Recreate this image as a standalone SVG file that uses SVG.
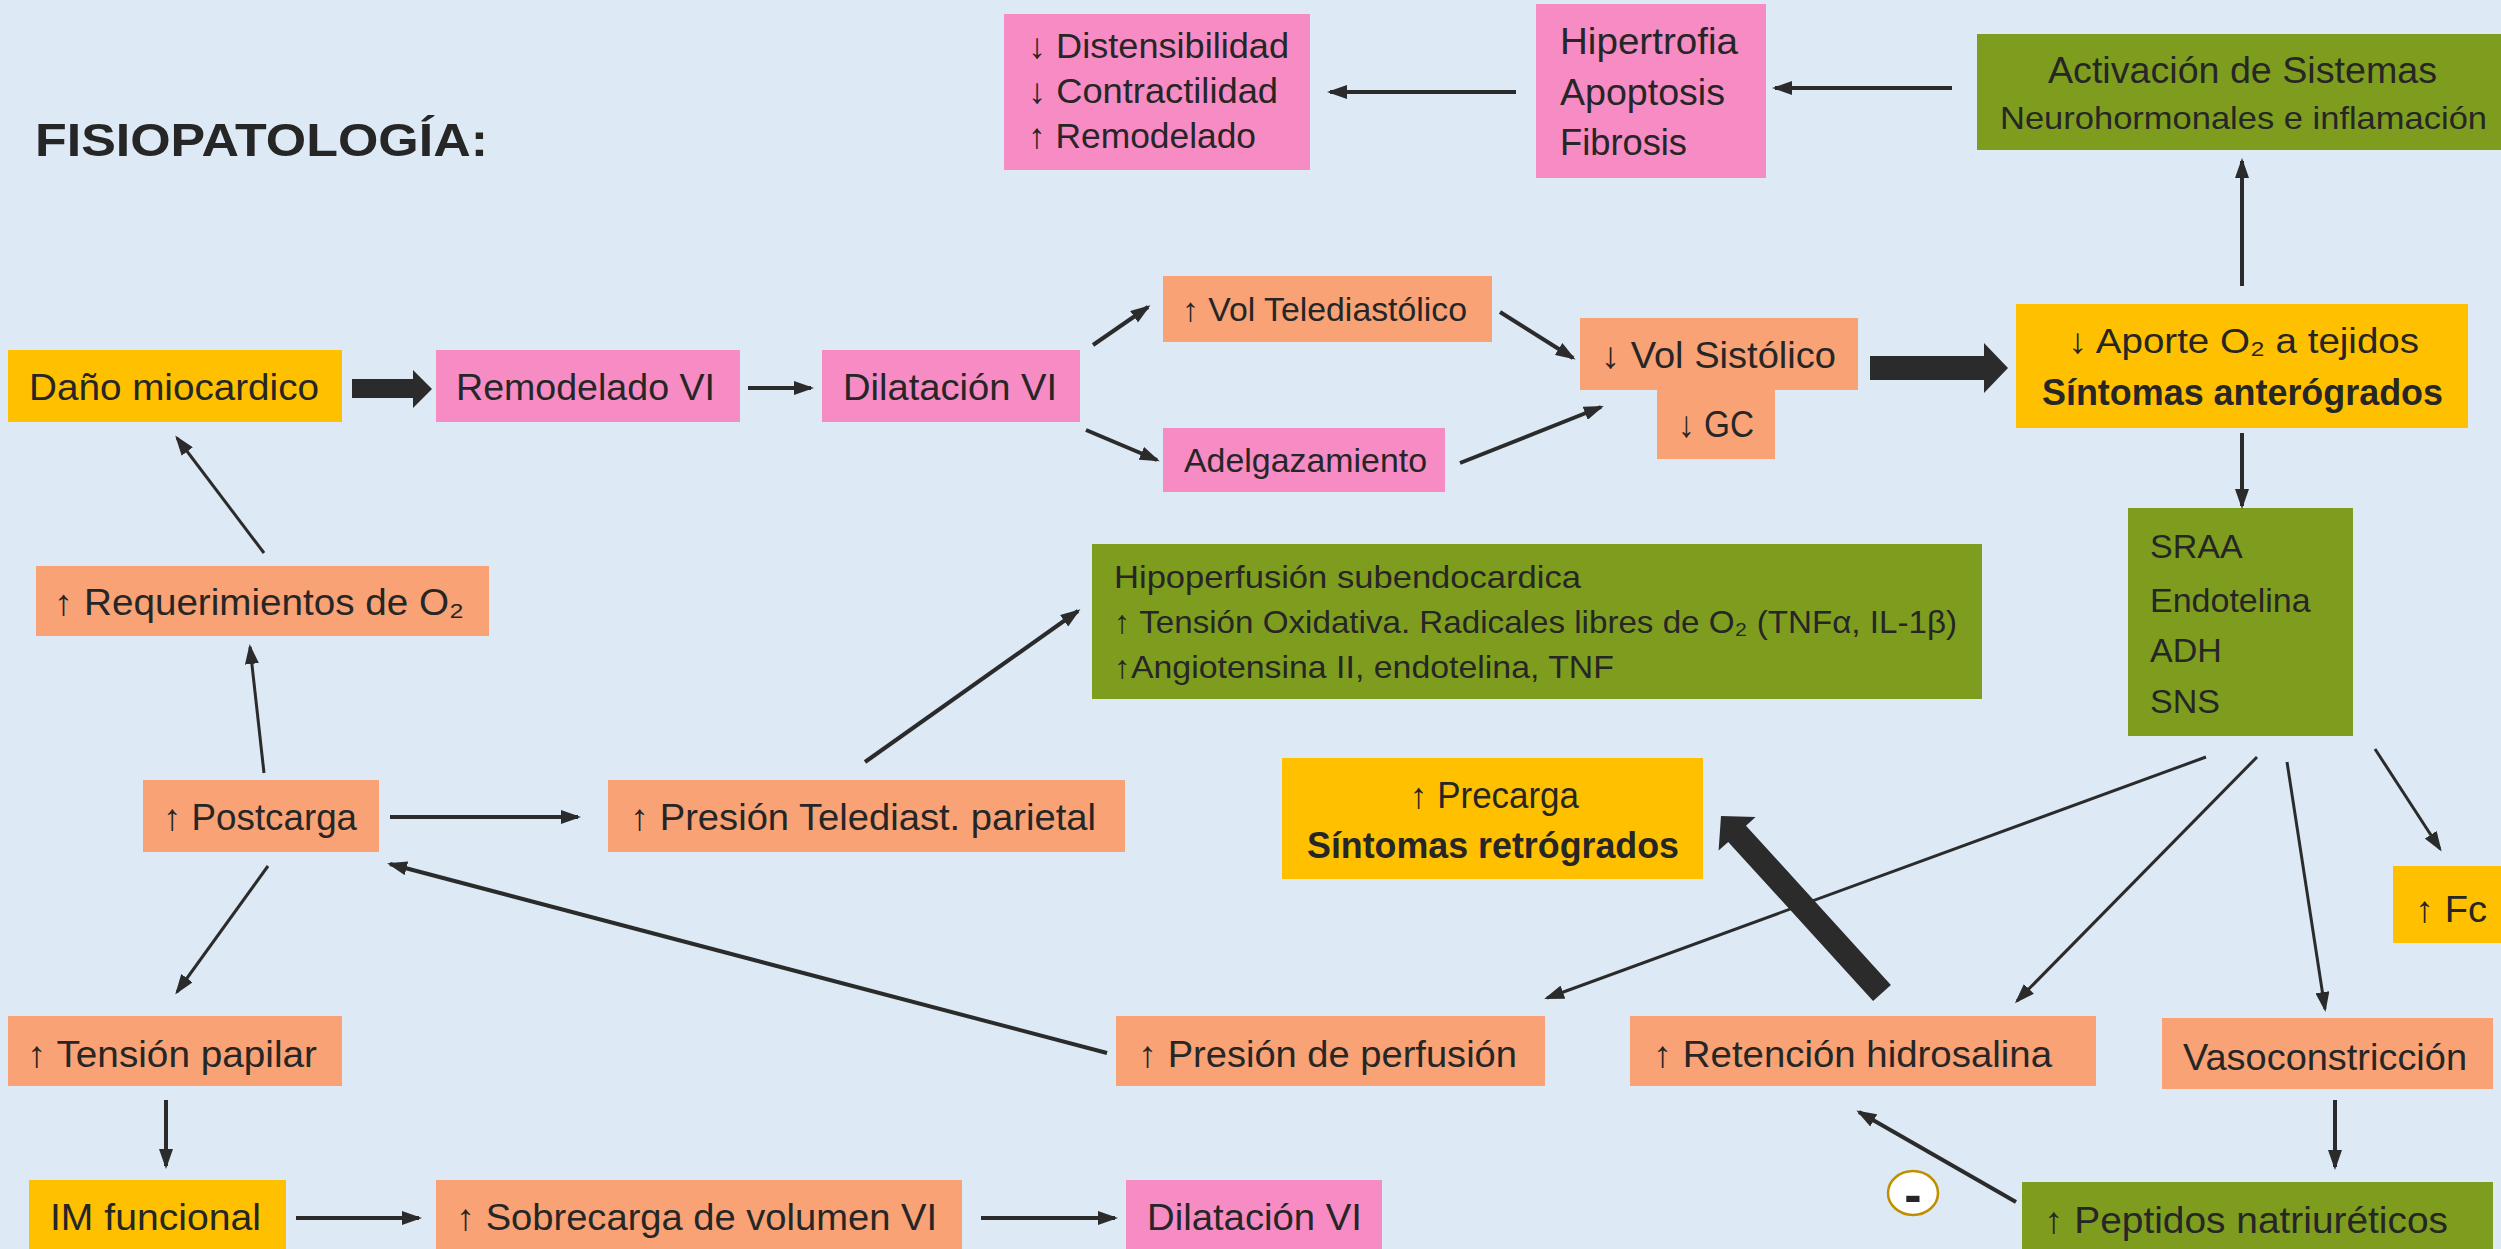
<svg xmlns="http://www.w3.org/2000/svg" width="2501" height="1249" viewBox="0 0 2501 1249">
<style>
.pk{fill:#F78BC4}
.or{fill:#F8A275}
.ye{fill:#FFC000}
.gr{fill:#7E9D1F}
text{font-family:"Liberation Sans",Arial,sans-serif;fill:#262626;font-size:37px}
.b{font-weight:bold}
.ln{stroke:#2B2B2B;stroke-width:4;fill:none;marker-end:url(#ah)}
.th{stroke-width:3}
.blk{fill:#2B2B2B}
</style>
<defs>
<marker id="ah" markerUnits="userSpaceOnUse" markerWidth="20" markerHeight="14" refX="17" refY="7" orient="auto">
<path d="M0,0 L20,7 L0,14 z" fill="#2B2B2B"/>
</marker>
</defs>
<rect x="0" y="0" width="2501" height="1249" fill="#DDE9F5"/>

<text id="title" class="b" x="35" y="156" style="font-size:47px" textLength="453" lengthAdjust="spacingAndGlyphs">FISIOPATOLOGÍA:</text>

<g id="distensibilidad">
<rect class="pk" x="1004" y="14" width="306" height="156"/>
<text x="1028" y="58" style="font-size:35px" textLength="261" lengthAdjust="spacingAndGlyphs">↓ Distensibilidad</text>
<text x="1028" y="103" style="font-size:35px" textLength="250" lengthAdjust="spacingAndGlyphs">↓ Contractilidad</text>
<text x="1028" y="148" style="font-size:35px" textLength="228" lengthAdjust="spacingAndGlyphs">↑ Remodelado</text>
</g>

<g id="hipertrofia">
<rect class="pk" x="1536" y="4" width="230" height="174"/>
<text x="1560" y="54" textLength="178" lengthAdjust="spacingAndGlyphs">Hipertrofia</text>
<text x="1560" y="105" textLength="165" lengthAdjust="spacingAndGlyphs">Apoptosis</text>
<text x="1560" y="155" textLength="127" lengthAdjust="spacingAndGlyphs">Fibrosis</text>
</g>

<g id="activacion">
<rect class="gr" x="1977" y="34" width="524" height="116"/>
<text x="2048" y="83" style="font-size:36px" textLength="389" lengthAdjust="spacingAndGlyphs">Activación de Sistemas</text>
<text x="2000" y="129" style="font-size:32px" textLength="487" lengthAdjust="spacingAndGlyphs">Neurohormonales e inflamación</text>
</g>

<g id="dano">
<rect class="ye" x="8" y="350" width="334" height="72"/>
<text x="29" y="400" textLength="290" lengthAdjust="spacingAndGlyphs">Daño miocardico</text>
</g>

<g id="remodelado">
<rect class="pk" x="436" y="350" width="304" height="72"/>
<text x="456" y="400" textLength="259" lengthAdjust="spacingAndGlyphs">Remodelado VI</text>
</g>

<g id="dilatacion1">
<rect class="pk" x="822" y="350" width="258" height="72"/>
<text x="843" y="400" textLength="214" lengthAdjust="spacingAndGlyphs">Dilatación VI</text>
</g>

<g id="voltele">
<rect class="or" x="1163" y="276" width="329" height="66"/>
<text x="1182" y="321" style="font-size:33px" textLength="285" lengthAdjust="spacingAndGlyphs">↑ Vol Telediastólico</text>
</g>

<g id="adelgazamiento">
<rect class="pk" x="1163" y="428" width="282" height="64"/>
<text x="1184" y="472" style="font-size:33px" textLength="243" lengthAdjust="spacingAndGlyphs">Adelgazamiento</text>
</g>

<g id="volsist">
<rect class="or" x="1580" y="318" width="278" height="72"/>
<rect class="or" x="1657" y="388" width="118" height="71"/>
<text x="1601" y="368" textLength="235" lengthAdjust="spacingAndGlyphs">↓ Vol Sistólico</text>
<text x="1678" y="437" textLength="76" lengthAdjust="spacingAndGlyphs">↓ GC</text>
</g>

<g id="aporte">
<rect class="ye" x="2016" y="304" width="452" height="124"/>
<text x="2068" y="353" style="font-size:35px" textLength="351" lengthAdjust="spacingAndGlyphs">↓ Aporte O₂ a tejidos</text>
<text class="b" x="2042" y="405" style="font-size:36px" textLength="401" lengthAdjust="spacingAndGlyphs">Síntomas anterógrados</text>
</g>

<g id="requerimientos">
<rect class="or" x="36" y="566" width="453" height="70"/>
<text x="54" y="615" style="font-size:36px" textLength="410" lengthAdjust="spacingAndGlyphs">↑ Requerimientos de O₂</text>
</g>

<g id="hipoperfusion">
<rect class="gr" x="1092" y="544" width="890" height="155"/>
<text x="1114" y="588" style="font-size:32px" textLength="467" lengthAdjust="spacingAndGlyphs">Hipoperfusión subendocardica</text>
<text x="1114" y="633" style="font-size:32px" textLength="843" lengthAdjust="spacingAndGlyphs">↑ Tensión Oxidativa. Radicales libres de O₂ (TNFα, IL-1β)</text>
<text x="1114" y="678" style="font-size:32px" textLength="500" lengthAdjust="spacingAndGlyphs">↑Angiotensina II, endotelina, TNF</text>
</g>

<g id="sraa">
<rect class="gr" x="2128" y="508" width="225" height="228"/>
<text x="2150" y="558" style="font-size:34px">SRAA</text>
<text x="2150" y="612" style="font-size:34px">Endotelina</text>
<text x="2150" y="662" style="font-size:34px">ADH</text>
<text x="2150" y="713" style="font-size:34px">SNS</text>
</g>

<g id="postcarga">
<rect class="or" x="143" y="780" width="236" height="72"/>
<text x="163" y="830" textLength="194" lengthAdjust="spacingAndGlyphs">↑ Postcarga</text>
</g>

<g id="presiontele">
<rect class="or" x="608" y="780" width="517" height="72"/>
<text x="630" y="830" textLength="466" lengthAdjust="spacingAndGlyphs">↑ Presión Telediast. parietal</text>
</g>

<g id="precarga">
<rect class="ye" x="1282" y="758" width="421" height="121"/>
<text x="1410" y="808" style="font-size:36px" textLength="169" lengthAdjust="spacingAndGlyphs">↑ Precarga</text>
<text class="b" x="1307" y="858" style="font-size:36px" textLength="372" lengthAdjust="spacingAndGlyphs">Síntomas retrógrados</text>
</g>

<g id="fc">
<rect class="ye" x="2393" y="866" width="108" height="77"/>
<text x="2415" y="922" textLength="72" lengthAdjust="spacingAndGlyphs">↑ Fc</text>
</g>

<g id="tensionpapilar">
<rect class="or" x="8" y="1016" width="334" height="70"/>
<text x="27" y="1067" textLength="290" lengthAdjust="spacingAndGlyphs">↑ Tensión papilar</text>
</g>

<g id="presionperfusion">
<rect class="or" x="1116" y="1016" width="429" height="70"/>
<text x="1138" y="1067" textLength="379" lengthAdjust="spacingAndGlyphs">↑ Presión de perfusión</text>
</g>

<g id="retencion">
<rect class="or" x="1630" y="1016" width="466" height="70"/>
<text x="1653" y="1067" textLength="399" lengthAdjust="spacingAndGlyphs">↑ Retención hidrosalina</text>
</g>

<g id="vasoconstriccion">
<rect class="or" x="2162" y="1018" width="331" height="71"/>
<text x="2183" y="1070" textLength="284" lengthAdjust="spacingAndGlyphs">Vasoconstricción</text>
</g>

<g id="imfuncional">
<rect class="ye" x="29" y="1180" width="257" height="69"/>
<text x="50" y="1230" textLength="211" lengthAdjust="spacingAndGlyphs">IM funcional</text>
</g>

<g id="sobrecarga">
<rect class="or" x="436" y="1180" width="526" height="69"/>
<text x="456" y="1230" textLength="481" lengthAdjust="spacingAndGlyphs">↑ Sobrecarga de volumen VI</text>
</g>

<g id="dilatacion2">
<rect class="pk" x="1126" y="1180" width="256" height="69"/>
<text x="1147" y="1230" textLength="215" lengthAdjust="spacingAndGlyphs">Dilatación VI</text>
</g>

<g id="peptidos">
<rect class="gr" x="2022" y="1182" width="471" height="67"/>
<text x="2044" y="1233" textLength="404" lengthAdjust="spacingAndGlyphs">↑ Peptidos natriuréticos</text>
</g>

<g id="minus">
<ellipse cx="1913" cy="1193" rx="25" ry="22" fill="#FFFFFF" stroke="#BF8F00" stroke-width="2.5"/>
<text class="b" x="1913" y="1212" text-anchor="middle" style="font-size:52px">-</text>
</g>

<g id="connectors">
<polygon class="blk" points="352,379 413,379 413,370 432,389 413,408 413,398 352,398"/>
<polygon class="blk" points="1870,356 1984,356 1984,343 2008,368 1984,393 1984,380 1870,380"/>
<polygon class="blk" points="1890.9,984.9 1746,825.7 1755.6,817 1721,816 1718.6,850.6 1728.2,841.9 1873.1,1001.1"/>
<line class="ln" x1="748" y1="388" x2="811" y2="388"/>
<line class="ln" x1="1093" y1="345" x2="1148" y2="307"/>
<line class="ln" x1="1086" y1="430" x2="1157" y2="460"/>
<line class="ln" x1="1500" y1="312" x2="1573" y2="358"/>
<line class="ln" x1="1460" y1="463" x2="1601" y2="407"/>
<line class="ln" x1="1516" y1="92" x2="1330" y2="92"/>
<line class="ln" x1="1952" y1="88" x2="1775" y2="88"/>
<line class="ln" x1="2242" y1="286" x2="2242" y2="161"/>
<line class="ln" x1="2242" y1="433" x2="2242" y2="506"/>
<line class="ln th" x1="264" y1="553" x2="177" y2="438"/>
<line class="ln th" x1="264" y1="773" x2="250" y2="647"/>
<line class="ln" x1="390" y1="817" x2="578" y2="817"/>
<line class="ln" x1="865" y1="762" x2="1078" y2="611"/>
<line class="ln th" x1="268" y1="866" x2="177" y2="992"/>
<line class="ln" x1="1107" y1="1053" x2="390" y2="864"/>
<line class="ln" x1="166" y1="1100" x2="166" y2="1166"/>
<line class="ln" x1="296" y1="1218" x2="419" y2="1218"/>
<line class="ln" x1="981" y1="1218" x2="1115" y2="1218"/>
<line class="ln th" x1="2206" y1="757" x2="1547" y2="998"/>
<line class="ln th" x1="2257" y1="757" x2="2017" y2="1001"/>
<line class="ln th" x1="2287" y1="762" x2="2325" y2="1009"/>
<line class="ln th" x1="2375" y1="749" x2="2440" y2="849"/>
<line class="ln" x1="2335" y1="1100" x2="2335" y2="1167"/>
<line class="ln" x1="2016" y1="1202" x2="1859" y2="1112"/>
</g>
</svg>
